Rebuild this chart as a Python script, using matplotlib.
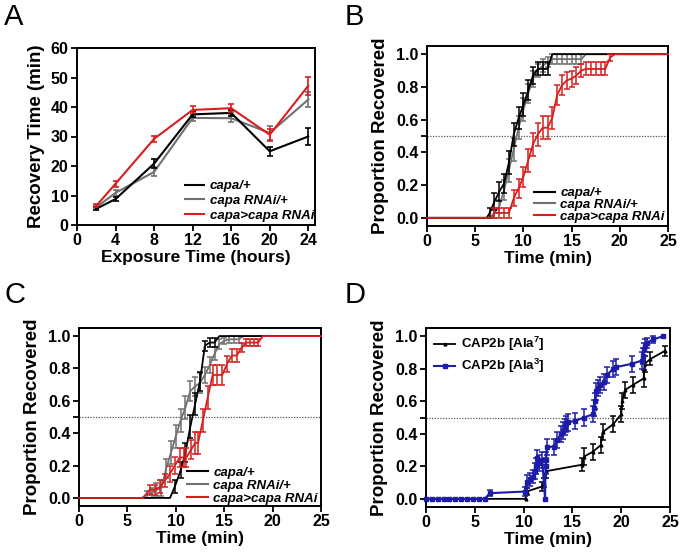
import matplotlib
matplotlib.use("Agg")
import matplotlib.pyplot as plt
from matplotlib.lines import Line2D
import numpy as np

plt.rcParams['font.family'] = ['Liberation Sans', 'DejaVu Sans']
plt.rcParams['font.weight'] = 'bold'
plt.rcParams['axes.labelweight'] = 'bold'
plt.rcParams['mathtext.fontset'] = 'custom'
plt.rcParams['mathtext.rm'] = 'Liberation Sans:bold'
plt.rcParams['mathtext.it'] = 'Liberation Sans:bold:italic'
plt.rcParams['mathtext.bf'] = 'Liberation Sans:bold'

BLACK = '#000000'
GRAY = '#707070'
RED = '#d81e1e'
BLUE = '#1c1ca8'

labels_abc = ['capa/+', 'capa RNAi/+', 'capa>capa RNAi']

# ---------------- Panel A ----------------
a_hours = [2, 4, 8, 12, 16, 20, 24]
a_capa = [5.5, 8.8, 20.8, 37.5, 38.0, 25.0, 30.0]
a_capa_err = [0.5, 0.8, 1.5, 1.0, 1.0, 1.5, 3.0]
a_rnai = [6.0, 10.9, 18.0, 36.3, 36.2, 31.2, 42.5]
a_rnai_err = [0.5, 1.0, 1.5, 1.0, 1.2, 2.3, 2.5]
a_red = [6.5, 14.0, 29.2, 39.0, 39.6, 30.6, 47.2]
a_red_err = [0.5, 1.0, 1.0, 1.2, 1.4, 2.0, 3.0]

# ---------------- Panel B ----------------
b_t_capa = [0, 6.2, 6.5, 7.0, 7.5, 8.0, 8.5, 9.0, 9.5, 10.0, 10.5, 11.0, 11.5, 12.0, 12.5, 13.0, 25]
b_p_capa = [0, 0, 0.03, 0.10, 0.16, 0.21, 0.34, 0.51, 0.61, 0.69, 0.78, 0.87, 0.91, 0.91, 0.91, 1.0, 1.0]
b_e_capa = [0, 0, 0.03, 0.05, 0.06, 0.06, 0.07, 0.07, 0.07, 0.07, 0.06, 0.05, 0.04, 0.04, 0.04, 0, 0]

b_t_rnai = [0, 6.5, 7.0, 7.5, 8.0, 8.5, 9.0, 9.5, 10.0, 10.5, 11.0, 11.5, 12.0, 12.5, 13.0, 13.5, 14.0, 14.5, 15.0, 15.5, 16.0, 16.5, 25]
b_p_rnai = [0, 0, 0.03, 0.07, 0.17, 0.29, 0.42, 0.55, 0.66, 0.76, 0.85, 0.90, 0.93, 0.95, 0.97, 0.97, 0.97, 0.97, 0.97, 0.97, 0.97, 1.0, 1.0]
b_e_rnai = [0, 0, 0.03, 0.04, 0.06, 0.07, 0.07, 0.07, 0.07, 0.06, 0.05, 0.04, 0.04, 0.03, 0.03, 0.03, 0.03, 0.03, 0.03, 0.03, 0.03, 0, 0]

b_t_red = [0, 6.8, 7.0, 7.5, 8.0, 8.5, 9.0, 9.5, 10.0, 10.5, 11.0, 11.5, 12.0, 12.5, 13.0, 13.5, 14.0, 14.5, 15.0,
           15.5, 16.0, 16.5, 17.0, 17.5, 18.0, 18.5, 19.0, 19.5, 25]
b_p_red = [0, 0, 0.03, 0.03, 0.03, 0.03, 0.12, 0.18, 0.25, 0.35, 0.45, 0.51, 0.55, 0.55, 0.61, 0.75, 0.81, 0.84, 0.85,
           0.87, 0.90, 0.91, 0.91, 0.91, 0.91, 0.91, 0.98, 1.0, 1.0]
b_e_red = [0, 0, 0.03, 0.03, 0.03, 0.03, 0.05, 0.06, 0.06, 0.07, 0.07, 0.07, 0.07, 0.07, 0.07, 0.06, 0.06, 0.05, 0.05,
           0.05, 0.04, 0.04, 0.04, 0.04, 0.04, 0.04, 0.02, 0, 0]

# ---------------- Panel C ----------------
c_t_capa = [0, 9.4, 9.9, 10.5, 11.0, 11.5, 12.0, 12.5, 13.0, 13.5, 14.0, 14.5, 25]
c_p_capa = [0, 0, 0.07, 0.17, 0.28, 0.44, 0.58, 0.72, 0.94, 0.96, 0.96, 1.0, 1.0]
c_e_capa = [0, 0, 0.04, 0.05, 0.06, 0.07, 0.07, 0.06, 0.03, 0.03, 0.03, 0, 0]

c_t_rnai = [0, 6.5, 7.0, 7.5, 8.0, 8.5, 9.0, 9.5, 10.0, 10.5, 11.0, 11.5, 12.0, 12.5, 13.0, 13.5, 14.0, 14.5, 15.0,
            15.5, 16.0, 16.5, 17.0, 25]
c_p_rnai = [0, 0, 0.02, 0.03, 0.05, 0.06, 0.18, 0.28, 0.38, 0.48, 0.56, 0.66, 0.69, 0.71, 0.76, 0.82, 0.89, 0.95, 0.97,
            0.98, 0.98, 0.98, 1.0, 1.0]
c_e_rnai = [0, 0, 0.02, 0.03, 0.04, 0.05, 0.06, 0.07, 0.07, 0.07, 0.07, 0.06, 0.06, 0.06, 0.05, 0.05, 0.04, 0.03, 0.02,
            0.02, 0.02, 0.02, 0, 0]

c_t_red = [0, 6.6, 7.3, 7.8, 8.4, 8.9, 9.4, 9.9, 10.4, 10.8, 11.1, 11.6, 12.0, 12.3, 12.8, 13.3, 13.8, 14.3, 14.8,
           15.3, 15.8, 16.3, 16.8, 17.3, 17.7, 18.1, 18.5, 19.0, 25]
c_p_red = [0, 0, 0.05, 0.05, 0.07, 0.11, 0.15, 0.20, 0.25, 0.25, 0.25, 0.30, 0.34, 0.34, 0.48, 0.62, 0.76, 0.76, 0.76,
           0.83, 0.88, 0.88, 0.93, 0.96, 0.96, 0.96, 0.96, 1.0, 1.0]
c_e_red = [0, 0, 0.03, 0.03, 0.04, 0.04, 0.05, 0.05, 0.06, 0.06, 0.06, 0.06, 0.07, 0.07, 0.07, 0.07, 0.06, 0.06, 0.06,
           0.05, 0.04, 0.04, 0.03, 0.02, 0.02, 0.02, 0.02, 0, 0]

# ---------------- Panel D ----------------
d_t_ala3 = [0, 0.6, 1.2, 1.8, 2.4, 3.0, 3.6, 4.2, 4.8, 5.4, 6.0, 6.55, 10.1, 10.3, 10.7, 11.0, 11.2, 11.3, 11.4, 11.6,
            11.9, 12.2, 12.25, 12.3, 12.4, 13.1, 13.45, 13.8, 14.0, 14.2, 14.3, 14.5, 15.3, 16.2, 17.1, 17.2, 17.3,
            17.4, 17.6, 17.8, 18.2, 18.5, 19.2, 19.5, 21.1, 22.1, 22.2, 22.3, 22.45, 22.6, 23.3, 24.3]
d_p_ala3 = [0, 0, 0, 0, 0, 0, 0, 0, 0, 0, 0, 0.035, 0.045, 0.105, 0.12, 0.137, 0.17, 0.20, 0.25, 0.22,
            0.24, 0.0, 0.20, 0.24, 0.32, 0.32, 0.36, 0.40, 0.42, 0.44, 0.46, 0.47, 0.48, 0.50, 0.52, 0.56, 0.60,
            0.66, 0.68, 0.70, 0.72, 0.76, 0.80, 0.81, 0.83, 0.85, 0.88, 0.92, 0.94, 0.96, 0.98, 1.0]
d_e_ala3 = [0, 0, 0, 0, 0, 0, 0, 0, 0, 0, 0, 0.02, 0.03, 0.04, 0.04, 0.04, 0.05, 0.05, 0.05, 0.05,
            0.05, 0.0, 0.05, 0.05, 0.05, 0.05, 0.05, 0.05, 0.05, 0.05, 0.05, 0.05, 0.05, 0.05, 0.05, 0.05, 0.05,
            0.05, 0.05, 0.05, 0.05, 0.05, 0.05, 0.05, 0.05, 0.05, 0.05, 0.04, 0.04, 0.03, 0.02, 0.0]

d_t_ala7 = [0, 10.2, 10.3, 11.9, 12.1, 12.3, 16.0, 16.2, 17.1, 17.9, 18.1, 19.2, 20.0, 20.1, 20.4, 21.2, 22.3, 22.4, 23.0, 24.5]
d_p_ala7 = [0, 0, 0.045, 0.076, 0.10, 0.17, 0.21, 0.26, 0.29, 0.33, 0.41, 0.46, 0.52, 0.60, 0.67, 0.70, 0.74, 0.83, 0.86, 0.91]
d_e_ala7 = [0, 0, 0.02, 0.03, 0.03, 0.04, 0.04, 0.05, 0.05, 0.05, 0.05, 0.05, 0.05, 0.05, 0.05, 0.05, 0.05, 0.05, 0.04, 0.03]

TICK_FS = 11.5
LBL_FS = 13.5
XLBL_FS = 12.5
LEG_FS = 9.5

fig = plt.figure(figsize=(6.8, 5.57), dpi=100)

def style(ax):
    for s in ax.spines.values():
        s.set_linewidth(1.4)
    ax.tick_params(direction='out', length=4, width=1.3, labelsize=TICK_FS, pad=2)
    for lab in ax.get_xticklabels() + ax.get_yticklabels():
        lab.set_fontweight('bold')

def curve(ax, t, p, e, color, z, lw=1.3, marker=None, ms=0):
    t = np.asarray(t); p = np.asarray(p); e = np.asarray(e)
    ax.plot(t, p, color=color, lw=lw, zorder=z, marker=marker, markersize=ms, clip_on=False)
    m = e > 0
    ax.errorbar(t[m], p[m], yerr=e[m], fmt='none', ecolor=color, elinewidth=1.1,
                capsize=2.2, capthick=1.1, zorder=z)

LEG_PROP_IT = {'size': LEG_FS, 'weight': 'bold', 'style': 'italic'}

# Panel A
axA = fig.add_axes([77/680, 1-225/557, 238/680, 177/557])
axA.axhline(0, color='#555555', lw=1, ls=(0, (1, 1)), zorder=1)
for y, e, c, z in [(a_rnai, a_rnai_err, GRAY, 2), (a_capa, a_capa_err, BLACK, 3), (a_red, a_red_err, RED, 4)]:
    axA.errorbar(a_hours, y, yerr=e, color=c, lw=1.5, elinewidth=1.2, capsize=2, capthick=1.2, zorder=z)
axA.set_xlim(0, 24.7)
axA.set_ylim(0, 60)
axA.set_xticks([0, 4, 8, 12, 16, 20, 24])
axA.set_yticks([0, 10, 20, 30, 40, 50, 60])
axA.set_xlabel('Exposure Time (hours)', fontsize=XLBL_FS, labelpad=1)
axA.set_ylabel('Recovery Time (min)', fontsize=LBL_FS, labelpad=4)
style(axA)
hA = [Line2D([], [], color=c, lw=1.5) for c in (BLACK, GRAY, RED)]
axA.legend(hA, labels_abc, loc='lower right', bbox_to_anchor=(1.035, -0.035), frameon=False,
           prop=LEG_PROP_IT, handlelength=1.5, handletextpad=0.4, labelspacing=0.2, borderpad=0.2)

def survival_axes(rect):
    ax = fig.add_axes(rect)
    ax.axhline(0.5, color='#555555', lw=0.9, ls=(0, (1, 1.2)), zorder=1)
    ax.set_xlim(0, 25)
    ax.set_ylim(-0.05, 1.05)
    ax.set_xticks([0, 5, 10, 15, 20, 25])
    ax.set_yticks([0.0, 0.2, 0.4, 0.6, 0.8, 1.0])
    ax.set_yticklabels(['0.0', '0.2', '0.4', '0.6', '0.8', '1.0'])
    ax.set_yticks([0.5], minor=True)
    ax.tick_params(axis='y', which='minor', direction='out', length=4, width=1.3)
    ax.tick_params(axis='x', which='minor', length=0)
    ax.set_xlabel('Time (min)', fontsize=XLBL_FS, labelpad=1)
    ax.set_ylabel('Proportion Recovered', fontsize=LBL_FS, labelpad=5)
    style(ax)
    return ax

# Panel B
axB = survival_axes([427/680, 1-226/557, 241/680, 180/557])
curve(axB, b_t_rnai, b_p_rnai, b_e_rnai, GRAY, 2)
curve(axB, b_t_capa, b_p_capa, b_e_capa, BLACK, 3)
curve(axB, b_t_red, b_p_red, b_e_red, RED, 4)
hB = [Line2D([], [], color=c, lw=1.5) for c in (BLACK, GRAY, RED)]
axB.legend(hB, labels_abc, loc='lower right', bbox_to_anchor=(1.025, -0.035), frameon=False,
           prop=LEG_PROP_IT, handlelength=1.6, handletextpad=0.4, labelspacing=-0.02, borderpad=0.2)

# Panel C
axC = survival_axes([79/680, 1-506/557, 242/680, 178/557])
curve(axC, c_t_rnai, c_p_rnai, c_e_rnai, GRAY, 2)
curve(axC, c_t_capa, c_p_capa, c_e_capa, BLACK, 3)
curve(axC, c_t_red, c_p_red, c_e_red, RED, 4)
axC.legend(hB, labels_abc, loc='lower right', bbox_to_anchor=(1.025, -0.045), frameon=False,
           prop=LEG_PROP_IT, handlelength=1.6, handletextpad=0.4, labelspacing=0.05, borderpad=0.2)

# Panel D
axD = survival_axes([426/680, 1-507/557, 244/680, 179/557])
curve(axD, d_t_ala7, d_p_ala7, d_e_ala7, BLACK, 2, lw=1.3, marker='^', ms=2)
curve(axD, d_t_ala3, d_p_ala3, d_e_ala3, BLUE, 3, lw=1.5, marker='s', ms=2.6)
hD = [Line2D([], [], color=BLACK, lw=1.3, marker='^', markersize=2),
      Line2D([], [], color=BLUE, lw=1.5, marker='s', markersize=2.6)]
axD.legend(hD, ['CAP2b [Ala$^{7}$]', 'CAP2b [Ala$^{3}$]'], loc='upper left', bbox_to_anchor=(-0.01, 1.02),
           frameon=False, prop={'size': LEG_FS, 'weight': 'bold'},
           handlelength=1.6, handletextpad=0.45, labelspacing=0.3, borderpad=0.3)

# Panel letters
for x, y, s in [(4, 3, 'A'), (345, 3, 'B'), (4, 281, 'C'), (345, 281, 'D')]:
    fig.text(x/680, 1-y/557, s, fontsize=21, fontweight='normal', va='top', ha='left')

fig.savefig('out.png', dpi=100)
